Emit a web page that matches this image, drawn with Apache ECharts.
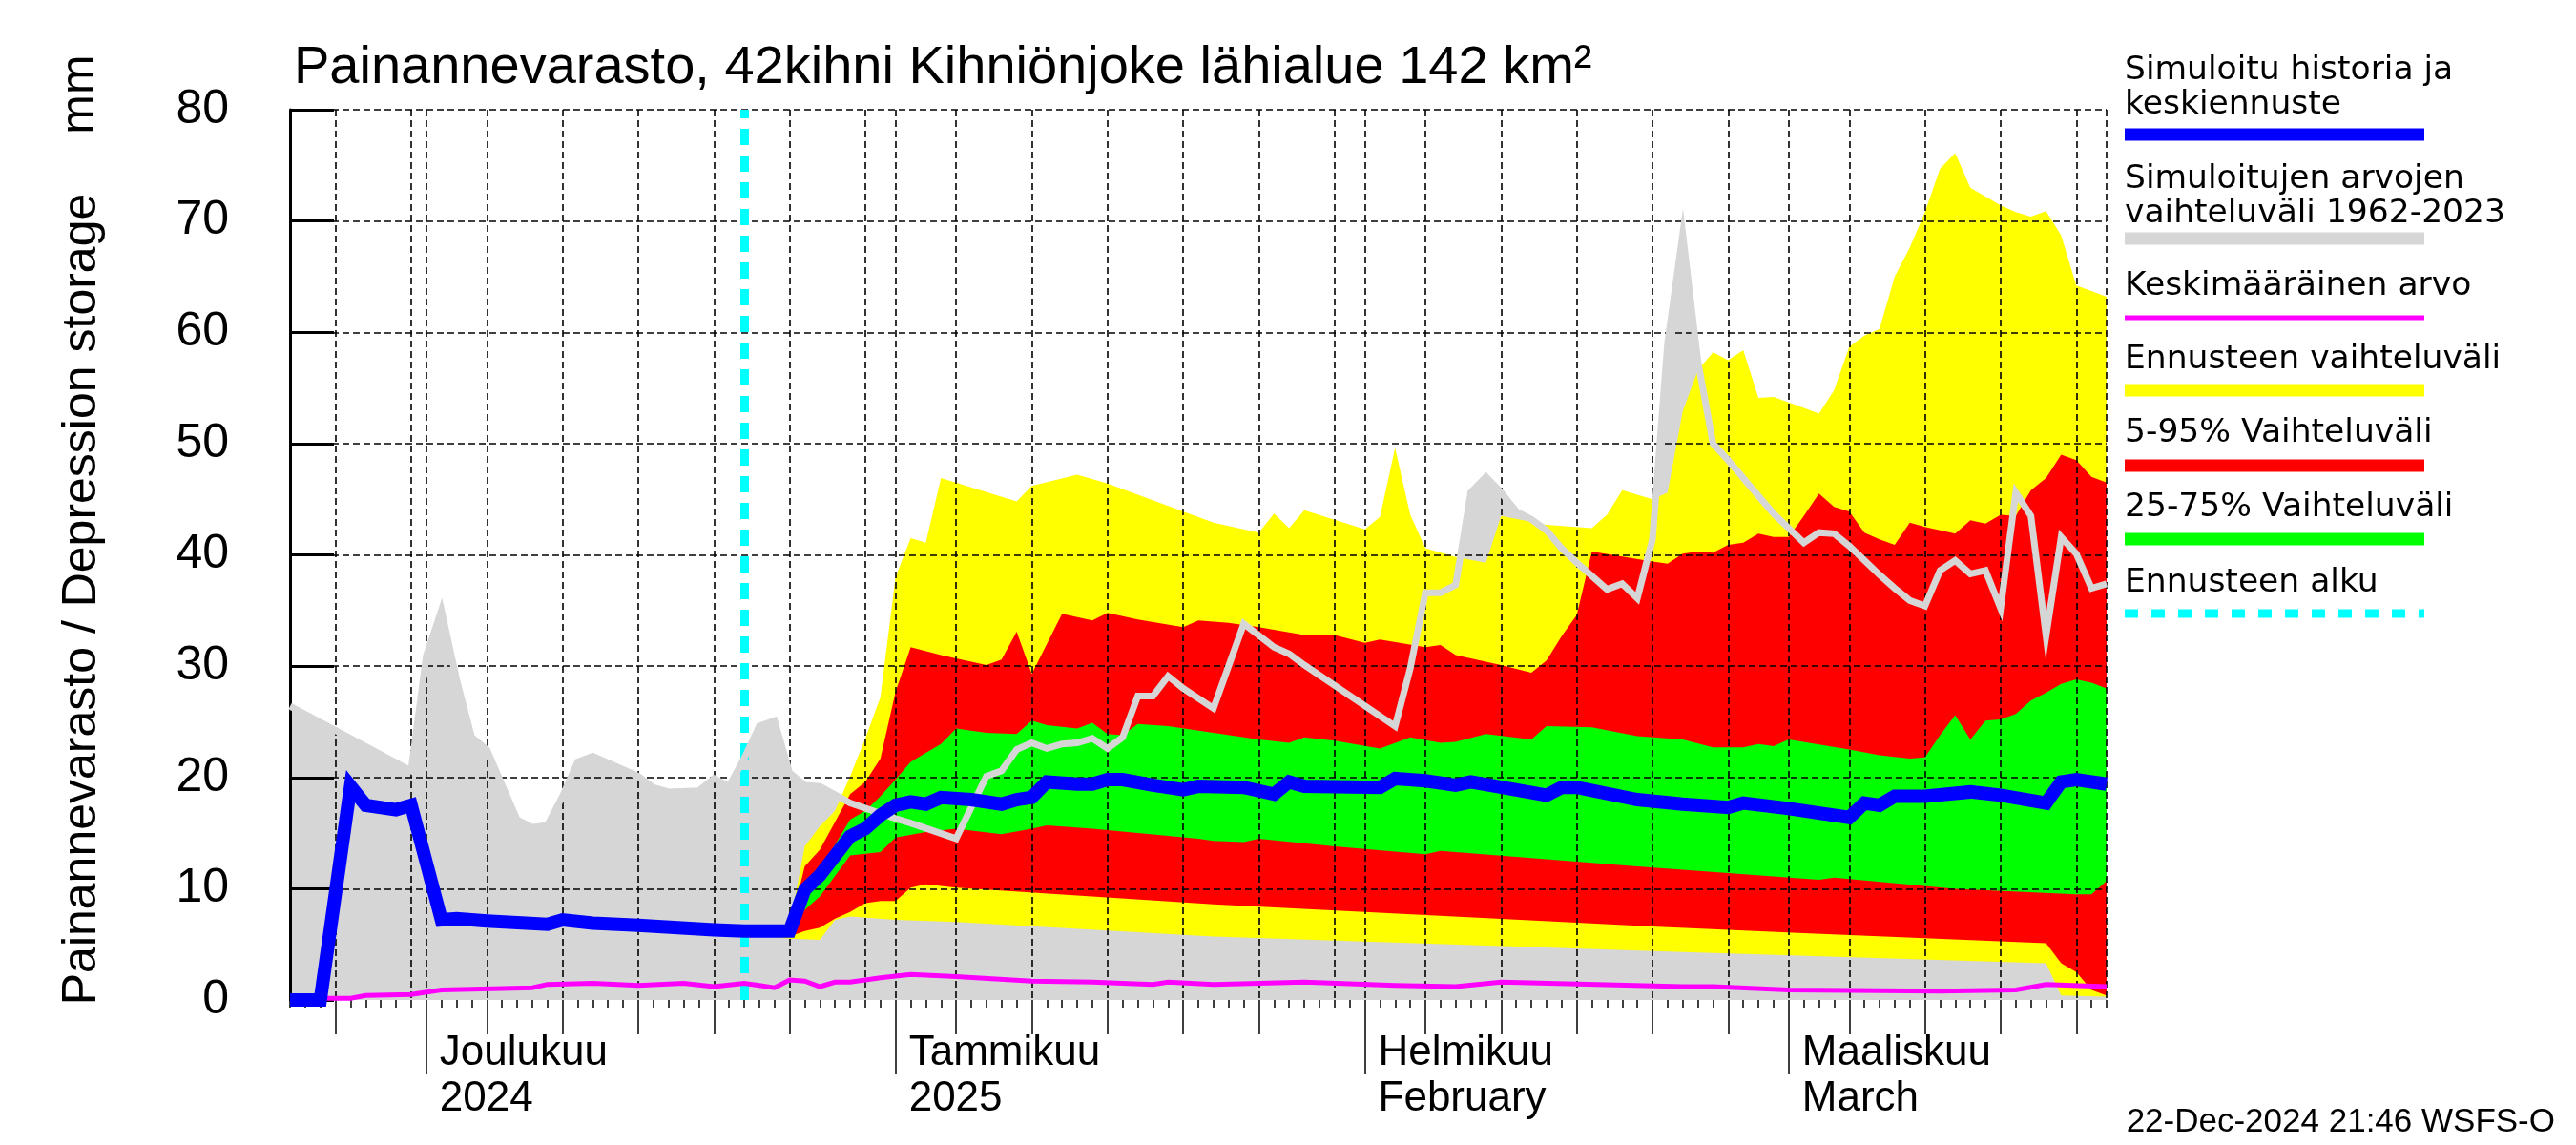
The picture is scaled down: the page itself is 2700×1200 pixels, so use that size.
<!DOCTYPE html>
<html><head><meta charset="utf-8">
<script src="https://cdn.jsdelivr.net/npm/echarts@6/dist/echarts.min.js"></script>
<style>html,body{margin:0;padding:0;background:#fff}#c{width:2700px;height:1200px}</style>
</head><body><div id="c"></div>
<script>
// ---------- texts ----------
const titleText = 'Painannevarasto, 42kihni Kihniönjoke lähialue 142 km²';
const yAxisTitle = 'Painannevarasto / Depression storage';
const yUnit = 'mm';
const stampText = '22-Dec-2024 21:46 WSFS-O';
const xStart = '2024-11-22';
const xEnd = '2025-03-22';
const forecastStart = '2024-12-22';
const monthTicks = ['2024-12-01', '2025-01-01', '2025-02-01', '2025-03-01'];
const monthLabels = ['Joulukuu\n2024', 'Tammikuu\n2025', 'Helmikuu\nFebruary', 'Maaliskuu\nMarch'];
const legendLabels = [
  'Simuloitu historia ja\nkeskiennuste',
  'Simuloitujen arvojen\nvaihteluväli 1962-2023',
  'Keskimääräinen arvo',
  'Ennusteen vaihteluväli',
  '5-95% Vaihteluväli',
  '25-75% Vaihteluväli',
  'Ennusteen alku'
];

// ---------- data ----------
const medianLine = [['2024-11-22',0],['2024-11-24',0],['2024-11-26',19.2],['2024-11-27',17.5],['2024-11-29',17.1],['2024-11-30',17.5],['2024-12-02',7.2],['2024-12-03',7.3],['2024-12-05',7.1],['2024-12-09',6.8],['2024-12-10',7.2],['2024-12-12',6.9],['2024-12-15',6.7],['2024-12-20',6.3],['2024-12-22',6.2],['2024-12-25',6.2],['2024-12-26',9.9],['2024-12-27',11.2],['2024-12-29',14.7],['2024-12-30',15.4],['2024-12-31',16.6],['2025-01-01',17.5],['2025-01-02',17.8],['2025-01-03',17.6],['2025-01-04',18.2],['2025-01-06',18.0],['2025-01-08',17.6],['2025-01-09',18.0],['2025-01-10',18.2],['2025-01-11',19.6],['2025-01-13',19.4],['2025-01-14',19.4],['2025-01-15',19.8],['2025-01-16',19.8],['2025-01-18',19.3],['2025-01-20',18.9],['2025-01-21',19.2],['2025-01-24',19.1],['2025-01-26',18.5],['2025-01-27',19.6],['2025-01-28',19.2],['2025-02-02',19.1],['2025-02-03',19.9],['2025-02-05',19.7],['2025-02-07',19.3],['2025-02-08',19.6],['2025-02-13',18.4],['2025-02-14',19.1],['2025-02-15',19.1],['2025-02-19',18.0],['2025-02-22',17.6],['2025-02-25',17.3],['2025-02-26',17.7],['2025-03-01',17.2],['2025-03-05',16.4],['2025-03-06',17.7],['2025-03-07',17.5],['2025-03-08',18.3],['2025-03-10',18.3],['2025-03-13',18.7],['2025-03-15',18.4],['2025-03-18',17.7],['2025-03-19',19.6],['2025-03-20',19.8],['2025-03-22',19.4]];

const histMax = [['2024-11-22',26.4],['2024-11-30',20.6],['2024-12-01',30.9],['2024-12-02',35.0],['2024-12-03',28.8],['2024-12-04',23.6],['2024-12-05',22.5],['2024-12-07',16.2],['2024-12-08',15.5],['2024-12-09',15.7],['2024-12-10',18.3],['2024-12-11',21.4],['2024-12-12',21.9],['2024-12-15',20.1],['2024-12-16',19.1],['2024-12-17',18.7],['2024-12-19',18.8],['2024-12-20',19.9],['2024-12-21',19.2],['2024-12-22',21.7],['2024-12-23',24.6],['2024-12-24',25.1],['2024-12-25',20.4],['2024-12-26',19.3],['2024-12-27',19.2],['2024-12-29',17.7],['2025-01-01',16.3],['2025-01-02',15.9],['2025-01-05',14.5],['2025-01-07',20.1],['2025-01-08',20.6],['2025-01-09',22.5],['2025-01-10',23.1],['2025-01-11',22.6],['2025-01-12',23.0],['2025-01-13',23.1],['2025-01-14',23.5],['2025-01-15',22.6],['2025-01-16',23.6],['2025-01-17',27.3],['2025-01-18',27.3],['2025-01-19',29.1],['2025-01-20',28.0],['2025-01-22',26.2],['2025-01-24',33.8],['2025-01-26',31.7],['2025-01-27',31.1],['2025-01-28',30.1],['2025-02-03',24.6],['2025-02-04',29.8],['2025-02-05',36.6],['2025-02-06',36.6],['2025-02-07',37.3],['2025-02-08',45.6],['2025-02-09',47.0],['2025-02-10',45.6],['2025-02-11',43.9],['2025-02-12',43.2],['2025-02-13',42.2],['2025-02-14',40.6],['2025-02-15',39.3],['2025-02-16',38.1],['2025-02-17',36.9],['2025-02-18',37.4],['2025-02-19',36.1],['2025-02-20',41.4],['2025-02-21',59.0],['2025-02-22',68.8],['2025-02-23',57.4],['2025-02-24',50.0],['2025-02-25',48.5],['2025-02-26',46.9],['2025-02-27',45.3],['2025-02-28',43.7],['2025-03-01',42.4],['2025-03-02',41.1],['2025-03-03',42.0],['2025-03-04',41.9],['2025-03-05',40.8],['2025-03-06',39.5],['2025-03-07',38.2],['2025-03-08',37.0],['2025-03-09',35.9],['2025-03-10',35.4],['2025-03-11',38.6],['2025-03-12',39.5],['2025-03-13',38.3],['2025-03-14',38.6],['2025-03-15',35.2],['2025-03-16',45.6],['2025-03-17',43.5],['2025-03-18',32.7],['2025-03-19',41.6],['2025-03-20',40.1],['2025-03-21',37.0],['2025-03-22',37.4]];

const meanLine = [['2024-11-22',0.15],['2024-11-26',0.15],['2024-11-27',0.4],['2024-11-30',0.5],['2024-12-02',0.9],['2024-12-08',1.1],['2024-12-09',1.4],['2024-12-12',1.5],['2024-12-15',1.3],['2024-12-18',1.5],['2024-12-20',1.2],['2024-12-22',1.5],['2024-12-23',1.3],['2024-12-24',1.1],['2024-12-25',1.8],['2024-12-26',1.7],['2024-12-27',1.2],['2024-12-28',1.6],['2024-12-29',1.6],['2024-12-31',2.0],['2025-01-02',2.3],['2025-01-05',2.1],['2025-01-10',1.7],['2025-01-14',1.6],['2025-01-18',1.4],['2025-01-19',1.6],['2025-01-22',1.4],['2025-01-28',1.6],['2025-02-03',1.3],['2025-02-07',1.2],['2025-02-10',1.6],['2025-02-22',1.2],['2025-02-24',1.2],['2025-03-01',0.9],['2025-03-11',0.8],['2025-03-16',0.9],['2025-03-18',1.4],['2025-03-22',1.2]];

const fcMax = [['2024-12-22',6.3],['2024-12-24',6.5],['2024-12-25',6.7],['2024-12-26',13.8],['2024-12-27',15.6],['2024-12-28',17.0],['2024-12-29',20.1],['2024-12-30',23.5],['2024-12-31',27.2],['2025-01-01',38.0],['2025-01-02',41.5],['2025-01-03',41.1],['2025-01-04',46.9],['2025-01-09',44.8],['2025-01-10',46.2],['2025-01-13',47.2],['2025-01-15',46.4],['2025-01-22',42.9],['2025-01-25',42.0],['2025-01-26',43.7],['2025-01-27',42.4],['2025-01-28',44.0],['2025-02-01',42.3],['2025-02-02',43.4],['2025-02-03',49.6],['2025-02-04',43.6],['2025-02-05',40.6],['2025-02-07',39.8],['2025-02-09',39.3],['2025-02-10',43.5],['2025-02-13',42.7],['2025-02-16',42.4],['2025-02-17',43.6],['2025-02-18',45.8],['2025-02-20',45.0],['2025-02-21',45.6],['2025-02-22',52.9],['2025-02-23',56.6],['2025-02-24',58.2],['2025-02-25',57.5],['2025-02-26',58.4],['2025-02-27',54.1],['2025-02-28',54.2],['2025-03-01',53.7],['2025-03-02',53.2],['2025-03-03',52.7],['2025-03-04',54.8],['2025-03-05',58.7],['2025-03-06',59.7],['2025-03-07',60.3],['2025-03-08',65.0],['2025-03-09',67.6],['2025-03-10',70.8],['2025-03-11',74.7],['2025-03-12',76.1],['2025-03-13',73.0],['2025-03-14',72.2],['2025-03-15',71.4],['2025-03-16',70.8],['2025-03-17',70.4],['2025-03-18',70.9],['2025-03-19',68.7],['2025-03-20',64.2],['2025-03-21',63.7],['2025-03-22',63.2]];

const p95 = [['2024-12-22',6.3],['2024-12-25',6.5],['2024-12-26',12.0],['2024-12-27',13.5],['2024-12-29',18.5],['2024-12-30',19.6],['2024-12-31',21.7],['2025-01-01',27.7],['2025-01-02',31.7],['2025-01-04',31.0],['2025-01-07',30.1],['2025-01-08',30.6],['2025-01-09',33.1],['2025-01-10',29.3],['2025-01-12',34.7],['2025-01-14',34.1],['2025-01-15',34.8],['2025-01-17',34.2],['2025-01-20',33.5],['2025-01-21',34.1],['2025-01-23',33.9],['2025-01-25',33.5],['2025-01-28',32.8],['2025-01-30',32.8],['2025-02-01',32.1],['2025-02-02',32.4],['2025-02-05',31.7],['2025-02-06',31.9],['2025-02-07',31.0],['2025-02-10',30.1],['2025-02-12',29.4],['2025-02-13',30.5],['2025-02-14',32.7],['2025-02-15',34.6],['2025-02-16',40.3],['2025-02-20',39.4],['2025-02-21',39.2],['2025-02-22',40.1],['2025-02-23',40.3],['2025-02-24',40.2],['2025-02-25',40.9],['2025-02-26',41.1],['2025-02-27',41.9],['2025-02-28',41.6],['2025-03-01',41.6],['2025-03-02',43.5],['2025-03-03',45.5],['2025-03-04',44.3],['2025-03-05',43.9],['2025-03-06',42.0],['2025-03-07',41.4],['2025-03-08',40.9],['2025-03-09',42.9],['2025-03-10',42.5],['2025-03-11',42.2],['2025-03-12',41.9],['2025-03-13',43.1],['2025-03-14',42.8],['2025-03-15',43.6],['2025-03-16',43.5],['2025-03-17',45.8],['2025-03-18',46.9],['2025-03-19',49.0],['2025-03-20',48.5],['2025-03-21',47.0],['2025-03-22',46.5]];

const p75 = [['2024-12-22',6.3],['2024-12-25',6.3],['2024-12-26',10.1],['2024-12-27',11.7],['2024-12-29',16.2],['2024-12-30',17.0],['2024-12-31',18.3],['2025-01-01',19.8],['2025-01-02',21.4],['2025-01-03',22.2],['2025-01-04',23.0],['2025-01-05',24.4],['2025-01-07',24.0],['2025-01-09',23.9],['2025-01-10',25.1],['2025-01-11',24.7],['2025-01-13',24.4],['2025-01-14',24.9],['2025-01-15',23.9],['2025-01-16',23.8],['2025-01-17',24.8],['2025-01-19',24.6],['2025-01-22',24.0],['2025-01-25',23.4],['2025-01-27',23.1],['2025-01-28',23.6],['2025-01-30',23.3],['2025-02-02',22.6],['2025-02-04',23.6],['2025-02-06',23.1],['2025-02-07',23.2],['2025-02-09',23.9],['2025-02-12',23.4],['2025-02-13',24.6],['2025-02-16',24.5],['2025-02-19',23.7],['2025-02-22',23.4],['2025-02-24',22.7],['2025-02-26',22.7],['2025-02-27',23.0],['2025-02-28',22.8],['2025-03-01',23.4],['2025-03-05',22.5],['2025-03-07',22.0],['2025-03-09',21.7],['2025-03-10',21.8],['2025-03-11',23.8],['2025-03-12',25.6],['2025-03-13',23.4],['2025-03-14',25.1],['2025-03-15',25.2],['2025-03-16',25.7],['2025-03-17',26.9],['2025-03-18',27.6],['2025-03-19',28.4],['2025-03-20',28.8],['2025-03-21',28.5],['2025-03-22',28.0]];

const p25 = [['2024-12-22',6.0],['2024-12-25',6.0],['2024-12-26',8.1],['2024-12-27',9.3],['2024-12-29',13.0],['2024-12-31',13.3],['2025-01-01',14.6],['2025-01-03',15.1],['2025-01-05',15.4],['2025-01-08',14.9],['2025-01-10',15.4],['2025-01-11',15.7],['2025-01-14',15.4],['2025-01-21',14.5],['2025-01-22',14.3],['2025-01-24',14.2],['2025-01-25',14.5],['2025-01-30',13.8],['2025-02-05',13.1],['2025-02-06',13.4],['2025-02-19',12.0],['2025-02-22',11.7],['2025-03-03',10.8],['2025-03-04',11.0],['2025-03-12',10.0],['2025-03-20',9.5],['2025-03-21',9.5],['2025-03-22',10.7]];

const p05 = [['2024-12-22',5.9],['2024-12-25',5.7],['2024-12-26',6.2],['2024-12-27',6.5],['2024-12-28',7.3],['2024-12-29',7.9],['2024-12-30',8.7],['2024-12-31',8.9],['2025-01-01',8.9],['2025-01-02',10.1],['2025-01-03',10.4],['2025-01-05',10.1],['2025-01-22',8.6],['2025-02-20',6.6],['2025-03-02',6.0],['2025-03-18',5.1],['2025-03-19',3.3],['2025-03-20',2.5],['2025-03-21',0.9],['2025-03-22',0.4]];

const fcMin = [['2024-12-22',5.9],['2024-12-25',5.5],['2024-12-27',5.4],['2024-12-28',7.2],['2024-12-29',7.5],['2025-01-01',7.2],['2025-01-05',7.0],['2025-01-22',5.7],['2025-02-22',4.3],['2025-03-18',3.3],['2025-03-19',0.4],['2025-03-22',0.3]];

// ---------- colours ----------
const C = {blue:'#0000ff', gray:'#d6d6d6', magenta:'#ff00ff', yellow:'#ffff00', red:'#ff0000', green:'#00ff00', cyan:'#00ffff'};
const sans = "'Liberation Sans',Arial,Helvetica,sans-serif";

function ts(s){ const p = s.split('-').map(Number); return new Date(p[0], p[1]-1, p[2]).getTime(); }
function toXY(arr){ return arr.map(function(p){ return [ts(p[0]), p[1]]; }); }

// tick positions
const dailyTicks = [], fiveDayTicks = [], gridTicks = [];
for (let t = new Date(ts(xStart)); t.getTime() <= ts(xEnd); t.setDate(t.getDate() + 1)) {
  const v = t.getTime(), dom = t.getDate();
  dailyTicks.push(v);
  if (dom % 5 === 0 && dom < 30) fiveDayTicks.push(v);
  if (dom === 1 || dom % 5 === 0) gridTicks.push(v);
}
gridTicks.push(ts(xEnd));
const monthTickTs = monthTicks.map(ts);

const dashed = {color:'#000', width:1.6, type:[7,4]};

function baseX(extra){
  return Object.assign({
    type:'value', min: ts(xStart), max: ts(xEnd), position:'bottom', gridIndex:0, scale:true,
    axisLine:{show:false}, splitLine:{show:false}, axisLabel:{show:false}, z:5
  }, extra);
}

const xAxes = [
  baseX({axisTick:{show:true, customValues: dailyTicks, length:8, lineStyle:{color:'#000', width:1.5}}}),
  baseX({axisTick:{show:true, customValues: fiveDayTicks, length:36, lineStyle:{color:'#000', width:1.5}}}),
  baseX({axisTick:{show:true, customValues: monthTickTs, length:78, lineStyle:{color:'#000', width:1.5}},
         axisLabel:{show:true, customValues: monthTickTs, hideOverlap:false,
           formatter: function(v){ const i = monthTickTs.indexOf(v); return i >= 0 ? monthLabels[i] : ''; },
           align:'left', verticalAlign:'top', margin:32, padding:[0,0,0,14],
           fontFamily: sans, fontSize:44, lineHeight:48, color:'#000'}}),
  baseX({axisTick:{show:false, customValues: gridTicks}, splitLine:{show:true, lineStyle: dashed}})
];

function areaSeries(data, color){
  return {type:'line', data: toXY(data), xAxisIndex:0, showSymbol:false, symbol:'none', silent:true,
    lineStyle:{width:0}, areaStyle:{color: color, opacity:1}, z:2, animation:false};
}
function lineSeries(data, color, width, z){
  return {type:'line', data: toXY(data), xAxisIndex:0, showSymbol:false, symbol:'none', silent:true,
    lineStyle:{color: color, width: width, join:'miter'}, z: z, animation:false};
}

const series = [
  Object.assign(areaSeries(histMax, C.gray), {z:1}),
  areaSeries(fcMax, C.yellow),
  areaSeries(p95, C.red),
  areaSeries(p75, C.green),
  areaSeries(p25, C.red),
  areaSeries(p05, C.yellow),
  areaSeries(fcMin, C.gray),
  lineSeries(histMax, C.gray, 7, 6),
  lineSeries(meanLine, C.magenta, 5, 7),
  Object.assign(lineSeries(medianLine, C.blue, 14, 9), {
    markLine:{silent:true, symbol:['none','none'], label:{show:false}, animation:false,
      lineStyle:{color:C.cyan, width:9, type:[17,11]},
      data:[{xAxis: ts(forecastStart)}]}
  })
];

// legend graphics
const legendX = 2227, legendW = 314;
const legendRows = [
  {text:legendLabels[0], ty:92, ly:141, color:C.blue, h:13},
  {text:legendLabels[1], ty:206, ly:250, color:C.gray, h:13},
  {text:legendLabels[2], ty:300, ly:333, color:C.magenta, h:5},
  {text:legendLabels[3], ty:377, ly:409, color:C.yellow, h:13},
  {text:legendLabels[4], ty:454, ly:488, color:C.red, h:13},
  {text:legendLabels[5], ty:532, ly:565, color:C.green, h:13},
  {text:legendLabels[6], ty:611, ly:643, color:C.cyan, h:9, dash:true}
];
const graphics = [];
legendRows.forEach(function(r){
  graphics.push({type:'text', x:legendX, y:r.ty, style:{text:r.text, fill:'#000',
    font:"34.5px 'DejaVu Sans',sans-serif", align:'left', verticalAlign:'middle', lineHeight:36}});
  if (r.dash) {
    graphics.push({type:'line', shape:{x1:legendX, y1:r.ly, x2:legendX+legendW, y2:r.ly},
      style:{stroke:r.color, lineWidth:r.h, lineDash:[14,14]}});
  } else {
    graphics.push({type:'rect', shape:{x:legendX, y:r.ly - r.h/2, width:legendW, height:r.h}, style:{fill:r.color}});
  }
});
graphics.push({type:'text', x:308, y:72, style:{text:titleText, fill:'#000', font:"56px " + sans, align:'left', verticalAlign:'middle'}});
graphics.push({type:'text', x:86, y:628, rotation:Math.PI/2, style:{text:yAxisTitle, fill:'#000', font:"50px " + sans, align:'center', verticalAlign:'middle'}});
graphics.push({type:'text', x:84, y:99, rotation:Math.PI/2, style:{text:yUnit, fill:'#000', font:"50px " + sans, align:'center', verticalAlign:'middle'}});
graphics.push({type:'text', x:2678, y:1176, style:{text:stampText, fill:'#000', font:"35px " + sans, align:'right', verticalAlign:'middle'}});

const chart = echarts.init(document.getElementById('c'), null, {renderer:'canvas'});
chart.setOption({
  animation:false,
  backgroundColor:'#fff',
  grid:{left:304, top:115, width:1904, height:933, containLabel:false},
  xAxis: xAxes,
  yAxis: {type:'value', min:0, max:80, interval:10, z:5,
    axisLine:{show:true, lineStyle:{color:'#000', width:3}},
    axisTick:{show:true, inside:true, length:46, lineStyle:{color:'#000', width:3}},
    axisLabel:{show:true, margin:64, fontFamily:sans, fontSize:50, color:'#000'},
    splitLine:{show:true, showMinLine:false, lineStyle:dashed}},
  series: series,
  graphic: graphics
});
</script></body></html>
